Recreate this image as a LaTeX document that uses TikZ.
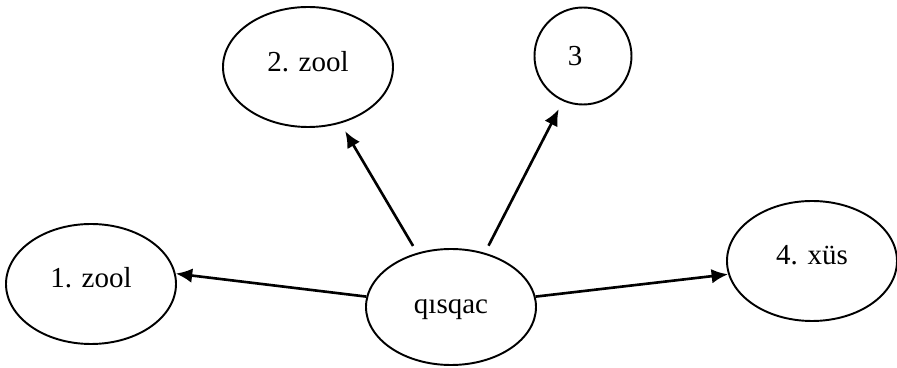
\documentclass[tikz,border=0pt]{standalone}
\usepackage{fontspec}
\setmainfont{Liberation Serif}
\usepackage{tikz}
\usetikzlibrary{arrows.meta, shapes.geometric}

\begin{document}
\begin{tikzpicture}[
    font=\fontsize{16.5}{20}\selectfont,
    oval/.style={draw, ellipse, line width=1.1pt, inner sep=0pt,
                 minimum width=3.4cm, minimum height=2.4cm,
                 text height=0.5cm, text depth=0.35cm},
    ring/.style={oval, circle, minimum size=1.94cm, text depth=0.1cm},
    arr/.style={-{Latex[length=3.3mm, width=2.9mm]}, line width=1.5pt},
    gap/.style={shorten <=1.6mm, shorten >=1.8mm},
]
\useasboundingbox (0,0) rectangle (17.94,7.36);

% centre node and its four branches
\node[oval, minimum height=2.32cm, text depth=0.23cm] (qisqac) at (9.02,1.22) {qısqac};
\node[oval] (zool1) at (1.82,1.68) {1. zool};
\node[oval, text depth=0.3cm] (zool2) at (6.16,6.02) {2. zool};
\node[ring] (three) at (11.66,6.24) {3\hspace*{0.32cm}};
\node[oval] (xus) at (16.24,2.14) {4. xüs};

% arrows out of the centre
\draw[arr] (qisqac.173) -- (zool1.7);
\draw[arr, gap] (qisqac.122) -- (zool2.300);
\draw[arr, gap] (qisqac.58) -- (three.246);
\draw[arr] (qisqac.7) -- (xus.189);
\end{tikzpicture}
\end{document}
